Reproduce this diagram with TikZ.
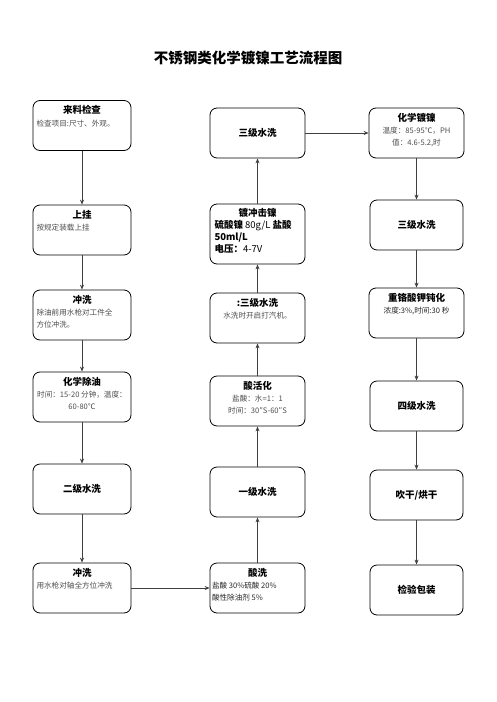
\documentclass[tikz,border=0pt]{standalone}
\usepackage{fontspec}
\usepackage{tikz}
\usetikzlibrary{arrows.meta, positioning}

\newfontfamily\cjk{Noto Sans CJK SC}
\newcommand{\titlefont}{\cjk\bfseries\fontsize{9.5}{12}\selectfont}
\newcommand{\bodyfont}{\cjk\mdseries\fontsize{7.6}{11.5}\selectfont\color{black!70}}
% title on top, body lines below it
\newcommand{\steptext}[3][\raggedright]{\parbox[c][40pt][t]{91pt}{\centering\titlefont #2\par\vspace{1pt} #1\bodyfont #3}}

\begin{document}
\begin{tikzpicture}[
    x=1pt, y=-1pt,
    stepbox/.style={rectangle, draw, line width=0.8pt, rounded corners=7pt, minimum width=98pt, minimum height=50pt, inner sep=2pt, align=center, font=\titlefont},
    midbox/.style={stepbox, minimum width=95pt},
    rightbox/.style={stepbox, minimum width=93pt},
    flow/.style={-{Stealth[length=5pt,width=4pt]}, draw=black!75, line width=0.7pt}
]
\useasboundingbox (0,0) rectangle (496,702);

% Title
\node[font=\cjk\bfseries\fontsize{14.5}{16}\selectfont] (Title) at (248,58) {不锈钢类化学镀镍工艺流程图};

% Left column
\node[stepbox] (Incoming) at (82,125.5) {\steptext{来料检查}{检查项目:尺寸、外观。}};
\node[stepbox] (Hang) at (82,230) {\steptext{上挂}{按规定装载上挂}};
\node[stepbox] (Flush) at (82,315) {\steptext{冲洗}{除油前用水枪对工件全\\方位冲洗。}};
\node[stepbox] (Degrease) at (82,397) {\steptext[\centering]{化学除油}{时间：15-20 分钟，温度：\\60-80℃}};
\node[stepbox] (RinseTwo) at (82,489) {二级水洗};
\node[stepbox] (Spray) at (82,588) {\steptext{冲洗}{用水枪对轴全方位冲洗}};

% Middle column (bottom to top)
\node[midbox] (Pickle) at (257.5,588) {\steptext{酸洗}{\color{black!85}盐酸 30\%硫酸 20\%\\酸性除油剂 5\%}};
\node[midbox] (RinseOne) at (257.5,492) {一级水洗};
\node[midbox] (Activate) at (257.5,401) {\steptext[\centering]{酸活化}{盐酸：水=1：1\\时间：30″S-60″S}};
\node[midbox] (RinseThreeA) at (257.5,318) {\steptext[\centering]{:三级水洗}{水洗时开启打汽机。}};
\node[midbox, minimum height=60pt] (Strike) at (257.5,234) {\parbox[c][52pt][t]{86pt}{\centering\titlefont 镀冲击镍\par\raggedright\titlefont 硫酸镍 \mdseries 80g/L \bfseries 盐酸\\50ml/L\\电压：\mdseries 4-7V}};
\node[midbox] (RinseThreeB) at (257.5,133) {三级水洗};

% Right column
\node[rightbox] (Plating) at (416.5,133) {\steptext[\centering]{化学镀镍}{温度：85-95℃，PH\\值：4.6-5.2,时}};
\node[rightbox] (RinseThreeC) at (416.5,225) {三级水洗};
\node[rightbox] (Passivate) at (416.5,313) {\steptext[\centering]{重铬酸钾钝化}{\color{black!85}浓度:3\%,时间:30 秒}};
\node[rightbox] (RinseFour) at (416.5,406) {四级水洗};
\node[rightbox] (Dry) at (416.5,495) {吹干/烘干};
\node[rightbox] (Pack) at (416.5,590) {检验包装};

% Edges left
\draw[flow] (Incoming) -- (Hang);
\draw[flow] (Hang) -- (Flush);
\draw[flow] (Flush) -- (Degrease);
\draw[flow] (Degrease) -- (RinseTwo);
\draw[flow] (RinseTwo) -- (Spray);
\draw[flow] (Spray) -- (Pickle);

% Edges middle
\draw[flow] (Pickle) -- (RinseOne);
\draw[flow] (RinseOne) -- (Activate);
\draw[flow] (Activate) -- (RinseThreeA);
\draw[flow] (RinseThreeA) -- (Strike);
\draw[flow] (Strike) -- (RinseThreeB);
\draw[flow] (RinseThreeB) -- (Plating);

% Edges right
\draw[flow] (Plating) -- (RinseThreeC);
\draw[flow] (RinseThreeC) -- (Passivate);
\draw[flow] (Passivate) -- (RinseFour);
\draw[flow] (RinseFour) -- (Dry);
\draw[flow] (Dry) -- (Pack);

\end{tikzpicture}
\end{document}
